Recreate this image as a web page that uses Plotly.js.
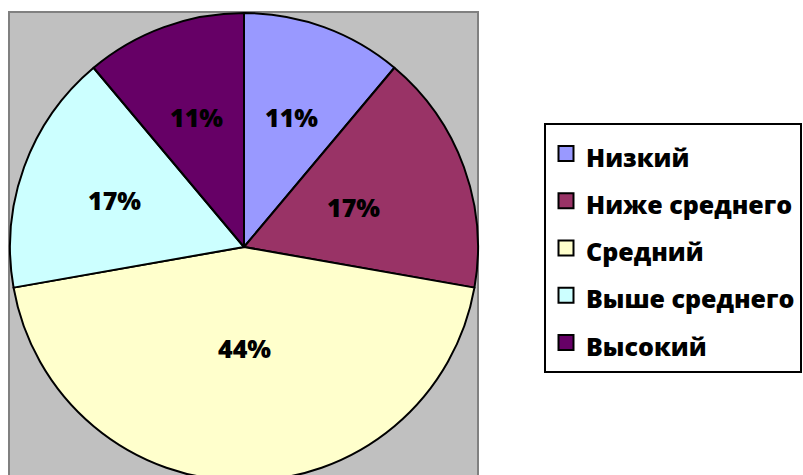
<!DOCTYPE html>
<html>
<head>
<meta charset="utf-8">
<script src="https://cdn.plot.ly/plotly-3.0.1.min.js"></script>
<style>
html,body{margin:0;padding:0;overflow:hidden;background:#fff;}
#chart{width:803px;height:482px;}
</style>
</head>
<body>
<div id="chart"></div>
<script>
var categories = ["Низкий", "Ниже среднего", "Средний", "Выше среднего", "Высокий"];
var values = [2, 3, 8, 3, 2];
var colors = ["#9999FF", "#993366", "#FFFFCC", "#CCFFFF", "#660066"];
// label placement (fraction of radius along each slice's bisector), Excel best-fit style
var labelRadius = [0.59, 0.50, 0.43, 0.59, 0.59];

var W = 803, H = 482;
var px0 = 10, px1 = 478, pyTop = 13, pyBot = 481;

var legendLabels = categories.map(function(c){
  return '<span style="font-size:25px">' + c + '</span>';
});

var trace = {
  type: "pie",
  labels: legendLabels,
  values: values,
  sort: false,
  direction: "clockwise",
  rotation: 0,
  marker: {colors: colors, line: {color: "#000000", width: 2}},
  textinfo: "none",
  hoverinfo: "none",
  domain: {x: [px0 / W, px1 / W], y: [1 - pyBot / H, 1 - pyTop / H]}
};

// percentage labels from the data, placed along slice bisectors
var total = values.reduce(function(a, b){ return a + b; }, 0);
var cx = (px0 + px1) / 2, cy = (pyTop + pyBot) / 2, R = (px1 - px0) / 2;
var annotations = [];
var cum = 0;
values.forEach(function(v, i){
  var mid = (cum + v / 2) / total * 2 * Math.PI;
  cum += v;
  var r = labelRadius[i] * R;
  var x = cx + r * Math.sin(mid);
  var y = cy - r * Math.cos(mid);
  annotations.push({
    xref: "paper", yref: "paper",
    x: x / W, y: 1 - y / H,
    xanchor: "center", yanchor: "middle",
    text: Math.round(v / total * 100) + "%",
    showarrow: false,
    font: {family: "Open Sans", size: 25, color: "#000000", weight: 800}
  });
});

var layout = {
  width: W, height: H,
  margin: {l: 0, r: 0, t: 0, b: 0, pad: 0, autoexpand: false},
  paper_bgcolor: "#ffffff",
  showlegend: true,
  legend: {
    x: 544 / W, xanchor: "left",
    y: 1 - 123 / H, yanchor: "top",
    bgcolor: "#ffffff",
    bordercolor: "#000000",
    borderwidth: 2,
    font: {family: "Open Sans", size: 34, color: "#000000", weight: 800},
    traceorder: "normal"
  },
  annotations: annotations,
  shapes: [{
    type: "rect", xref: "paper", yref: "paper", layer: "below",
    x0: 9 / W, x1: 478 / W, y0: -0.02, y1: 1 - 12 / H,
    fillcolor: "#C0C0C0", line: {color: "#808080", width: 2}
  }]
};

Plotly.newPlot("chart", [trace], layout, {displayModeBar: false, staticPlot: true}).then(function(gd){
  // enlarge the legend swatches to match the reference's square markers
  var paths = gd.querySelectorAll(".legend .legendpoints path");
  paths.forEach(function(p){ p.setAttribute("d", "M7.5,7.5H-7.5V-7.5H7.5Z"); });
});
</script>
</body>
</html>
